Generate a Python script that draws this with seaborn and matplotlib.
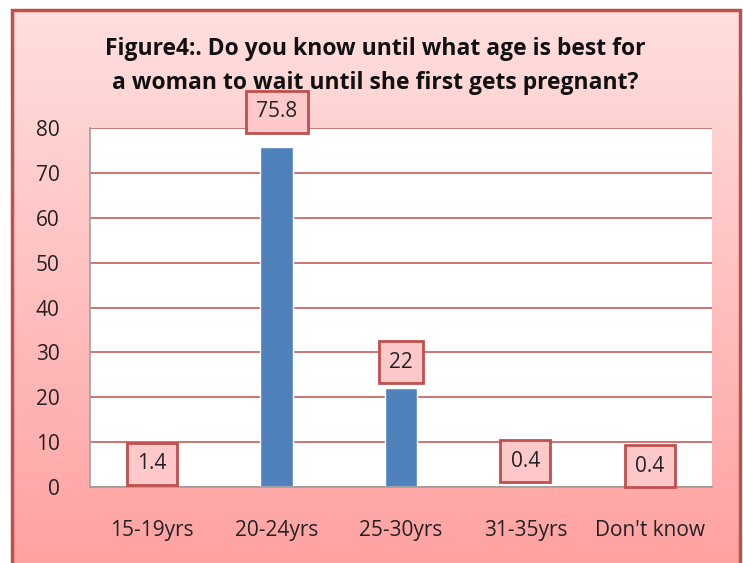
import numpy as np
import pandas as pd
import matplotlib
matplotlib.use("Agg")
import matplotlib.pyplot as plt
import seaborn as sns
from matplotlib.patches import Rectangle

categories = ["15-19yrs", "20-24yrs", "25-30yrs", "31-35yrs", "Don't know"]
values = [1.4, 75.8, 22, 0.4, 0.4]
labels = ["1.4", "75.8", "22", "0.4", "0.4"]
label_offsets = [17, 35, 26, 24, 19]   # px above bar top for the value boxes

sns.set_theme(style="white")
plt.rcParams["font.family"] = ["Open Sans", "DejaVu Sans"]

W, H = 743, 563
fig = plt.figure(figsize=(W / 100, H / 100), dpi=100)
fig.patch.set_facecolor("white")

# pink gradient frame (open at the bottom edge of the image)
bg = fig.add_axes([12 / W, -0.02, (740 - 12) / W, (H - 10) / H + 0.02], zorder=0)
grad = np.linspace(0, 1, 256).reshape(-1, 1)
top = np.array([1.0, 0.875, 0.875])
bot = np.array([1.0, 0.63, 0.63])
img = top + (bot - top) * grad[..., None]
bg.imshow(img, aspect="auto", extent=[0, 1, 0, 1], origin="upper")
bg.add_patch(Rectangle((0, 0), 1, 1, transform=bg.transAxes, fill=False,
                       edgecolor="#C0504D", linewidth=2.5, clip_on=False))
bg.set_axis_off()

ax = fig.add_axes([90 / W, (H - 487) / H, (712 - 90) / W, (487 - 128) / H], zorder=1)
df = pd.DataFrame({"cat": categories, "val": values})
sns.barplot(data=df, x="cat", y="val", color="#4F81BD", width=0.26,
            saturation=1, ax=ax)
ax.set_facecolor("white")
ax.set_ylim(0, 80)
ax.set_yticks(range(0, 81, 10))
ax.set_xlabel("")
ax.set_ylabel("")
ax.grid(axis="y", color="#C0504D", linewidth=1.1)
ax.set_axisbelow(True)
for s in ["top", "right"]:
    ax.spines[s].set_visible(False)
for s in ["left", "bottom"]:
    ax.spines[s].set_color("#A0A0A0")
    ax.spines[s].set_linewidth(1.2)
ax.tick_params(axis="y", length=0, pad=22, labelsize=15, labelcolor="#222222")
ax.tick_params(axis="x", length=0, pad=24, labelsize=15, labelcolor="#222222")

px = (487 - 128) / 80.0
for i, (v, lab, off) in enumerate(zip(values, labels, label_offsets)):
    y = v + off / px
    ax.text(i, y, lab, ha="center", va="center", fontsize=15, color="#222222",
            zorder=5,
            bbox=dict(boxstyle="square,pad=0.5", facecolor="#FFC9C9",
                      edgecolor="#C0504D", linewidth=2))

fig.text(375 / W, 1 - 66 / H,
         "Figure4:. Do you know until what age is best for\n"
         "a woman to wait until she first gets pregnant?",
         ha="center", va="center", fontsize=16.5, fontweight="bold",
         color="#111111", linespacing=1.6)

fig.savefig("out.png", dpi=100)
